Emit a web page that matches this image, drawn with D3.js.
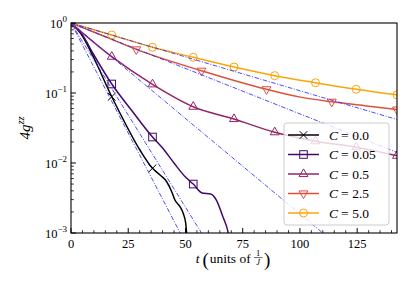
<!DOCTYPE html>
<html>
<head>
<meta charset="UTF-8">
<script src="https://d3js.org/d3.v7.min.js"></script>
<style>
  body { margin: 0; background: #fff; }
</style>
</head>
<body>
<div id="chart"></div>
<script>
// --- donnees (t en unites de 1/J, valeur 4g^zz) ---
const labels = ["0.0", "0.05", "0.5", "2.5", "5.0"];
const symbols = ["x", "square", "triUp", "triDown", "circle"];

const tC00 = [0, 5, 10, 17.8, 20.7, 30.1, 35.6, 38.9, 41.8, 44, 45.4, 47.6, 49, 50.1, 50.5, 50.8];
const vC00 = [1, 0.652, 0.316, 0.0885, 0.0572, 0.01534, 0.0084, 0.00674, 0.0054, 0.00389, 0.00296, 0.00238, 0.00191, 0.00138, 0.001, 0.0008];
const mC00 = [0, 3, 6];

const tC005 = [0, 5, 10, 17.8, 26.7, 35.6, 40, 45, 50, 53.4, 57.3, 61, 63.5, 66.4, 68.6, 69.5];
const vC005 = [1, 0.674, 0.349, 0.1345, 0.0553, 0.0235, 0.01637, 0.01, 0.0063, 0.005, 0.00373, 0.00361, 0.00296, 0.00169, 0.00103, 0.0007];
const mC005 = [0, 3, 5, 9];

const tC05 = [0, 17.8, 35.6, 53.4, 71.2, 89.0, 106.8, 124.6, 142.4];
const vC05 = [1, 0.330, 0.133, 0.0637, 0.0425, 0.0275, 0.0205, 0.0168, 0.0127];
const mC05 = [0, 1, 2, 3, 4, 5, 6, 7, 8];

const tC25 = [0, 14.2, 28.5, 57.0, 85.4, 99.7, 113.9, 128.2, 142.4];
const vC25 = [1, 0.652, 0.42, 0.208, 0.113, 0.088, 0.075, 0.066, 0.058];
const mC25 = [0, 2, 3, 4, 6, 8];

const tC50 = [0, 17.8, 35.6, 53.4, 71.2, 89.0, 106.8, 124.6, 142.4];
const vC50 = [1, 0.674, 0.45, 0.324, 0.235, 0.177, 0.14, 0.113, 0.094];
const mC50 = [0, 1, 2, 3, 4, 5, 6, 7, 8];

// ajustements exponentiels (tirets-points bleus) : extremites
const fitT0 = [0, 0, 0, 0, 0];
const fitT1 = [47.7, 57, 110, 142.4, 142.4];
const fitV1 = [0.001, 0.001, 0.001, 0.01417, 0.0418];

const xTicks = [0, 25, 50, 75, 100, 125];
const yTicks = [1, 0.1, 0.01, 0.001];
const yExp = ["0", "\u22121", "\u22122", "\u22123"];

const series = [
  { t: tC00, v: vC00, m: mC00 },
  { t: tC005, v: vC005, m: mC005 },
  { t: tC05, v: vC05, m: mC05 },
  { t: tC25, v: vC25, m: mC25 },
  { t: tC50, v: vC50, m: mC50 }
];

const FONT = "'Liberation Serif', 'Times New Roman', 'DejaVu Serif', serif";
const width = 415, height = 295;
const plot = { left: 71, right: 397, top: 23, bottom: 233 };

const svg = d3.select("#chart").append("svg")
  .attr("width", width).attr("height", height)
  .attr("font-family", FONT);

const x = d3.scaleLinear().domain([0, 142.4]).range([plot.left, plot.right]);
const y = d3.scaleLog().domain([1e-3, 1]).range([plot.bottom, plot.top]);

const colour = (i) => d3.interpolateInferno(i / 5);

svg.append("clipPath").attr("id", "clip")
  .append("rect")
  .attr("x", plot.left).attr("y", plot.top)
  .attr("width", plot.right - plot.left).attr("height", plot.bottom - plot.top);

const g = svg.append("g").attr("clip-path", "url(#clip)");

const line = d3.line()
  .x(d => x(d[0])).y(d => y(d[1]))
  .curve(d3.curveMonotoneX);

// marqueurs
function marker(sel, type, c) {
  if (type === "x") {
    sel.append("path").attr("d", "M-3.8,-3.8L3.8,3.8M-3.8,3.8L3.8,-3.8")
      .attr("stroke", c).attr("stroke-width", 1).attr("fill", "none");
  } else if (type === "square") {
    sel.append("rect").attr("x", -3.8).attr("y", -3.8).attr("width", 7.6).attr("height", 7.6)
      .attr("stroke", c).attr("stroke-width", 1).attr("fill", "none");
  } else if (type === "circle") {
    sel.append("circle").attr("r", 4)
      .attr("stroke", c).attr("stroke-width", 1).attr("fill", "none");
  } else {
    const p = d3.symbol().type(d3.symbolTriangle).size(34)();
    sel.append("path").attr("d", p)
      .attr("transform", type === "triDown" ? "rotate(180)" : null)
      .attr("stroke", c).attr("stroke-width", 1).attr("fill", "none");
  }
}

series.forEach((s, i) => {
  const pts = s.t.map((t, k) => [t, s.v[k]]);
  g.append("path").datum(pts)
    .attr("d", line)
    .attr("fill", "none")
    .attr("stroke", colour(i))
    .attr("stroke-width", 1.5);
  s.m.forEach(k => {
    const mg = g.append("g").attr("transform", `translate(${x(s.t[k])},${y(s.v[k])})`);
    marker(mg, symbols[i], colour(i));
  });
});

// droites d'ajustement
fitT1.forEach((t1, i) => {
  g.append("path")
    .datum([[fitT0[i], 1], [t1, fitV1[i]]])
    .attr("d", d3.line().x(d => x(d[0])).y(d => y(d[1])))
    .attr("fill", "none")
    .attr("stroke", "#2020ff")
    .attr("stroke-width", 0.8)
    .attr("stroke-dasharray", "4.5,1.6,1,1.6");
});

// cadre
svg.append("rect")
  .attr("x", plot.left).attr("y", plot.top)
  .attr("width", plot.right - plot.left).attr("height", plot.bottom - plot.top)
  .attr("fill", "none").attr("stroke", "#000").attr("stroke-width", 1.1);

// ticks x (vers l'interieur)
const xMinor = d3.range(0, 142, 5).filter(t => !xTicks.includes(t));
svg.append("g").selectAll("line").data(xMinor).join("line")
  .attr("x1", d => x(d)).attr("x2", d => x(d))
  .attr("y1", plot.bottom).attr("y2", plot.bottom - 2.8)
  .attr("stroke", "#000").attr("stroke-width", 0.8);
svg.append("g").selectAll("line").data(xTicks).join("line")
  .attr("x1", d => x(d)).attr("x2", d => x(d))
  .attr("y1", plot.bottom).attr("y2", plot.bottom - 4.9)
  .attr("stroke", "#000").attr("stroke-width", 1);
svg.append("g").selectAll("text").data(xTicks).join("text")
  .attr("x", d => x(d)).attr("y", 248)
  .attr("text-anchor", "middle")
  .attr("font-size", 12.5)
  .text(d => d);

// ticks y (log)
const yMinor = [];
[0.001, 0.01, 0.1].forEach(b => d3.range(2, 10).forEach(k => yMinor.push(b * k)));
svg.append("g").selectAll("line").data(yMinor).join("line")
  .attr("x1", plot.left).attr("x2", plot.left + 2.8)
  .attr("y1", d => y(d)).attr("y2", d => y(d))
  .attr("stroke", "#000").attr("stroke-width", 0.8);
svg.append("g").selectAll("line").data(yTicks).join("line")
  .attr("x1", plot.left).attr("x2", plot.left + 4.9)
  .attr("y1", d => y(d)).attr("y2", d => y(d))
  .attr("stroke", "#000").attr("stroke-width", 1);
const yl = svg.append("g").selectAll("text").data(yTicks).join("text")
  .attr("x", 67).attr("y", d => y(d) + 4.5)
  .attr("text-anchor", "end")
  .attr("font-size", 12.5);
yl.append("tspan").text("10");
yl.append("tspan").attr("dy", -5.5).attr("font-size", 9).text((d, i) => yExp[i]);

// titre axe y
const ylab = svg.append("text")
  .attr("transform", "translate(30,128) rotate(-90)")
  .attr("text-anchor", "middle")
  .attr("font-size", 15)
  .attr("font-style", "italic");
ylab.append("tspan").text("4g");
ylab.append("tspan").attr("dy", -6).attr("font-size", 10.5).text("zz");

// titre axe x : t (units of 1/J), pieces placees a la suite
const xl = svg.append("g");
let cx = 0;
function piece(txt, size, italic, dy, gap) {
  cx += gap || 0;
  const el = xl.append("text").attr("x", cx).attr("y", 263 + (dy || 0))
    .attr("font-size", size).attr("font-style", italic ? "italic" : "normal").text(txt);
  const w = el.node().getComputedTextLength();
  cx += w;
  return { el, x0: cx - w, w };
}
piece("t", 13.5, true);
piece("(", 19, false, 3, 3);
piece("units", 13.5, false, 0, 1);
piece("of", 13.5, false, 0, 3.5);
cx += 3;
const fx = cx + 4.5;
xl.append("text").attr("x", fx).attr("y", 255.5).attr("text-anchor", "middle")
  .attr("font-size", 8.5).text("1");
xl.append("line").attr("x1", fx - 4.3).attr("x2", fx + 4.3).attr("y1", 257.6).attr("y2", 257.6)
  .attr("stroke", "#000").attr("stroke-width", 0.6);
xl.append("text").attr("x", fx).attr("y", 265).attr("text-anchor", "middle")
  .attr("font-size", 8.5).attr("font-style", "italic").text("J");
cx = fx + 4.3;
piece(")", 19, false, 3, 1.5);
const totalW = cx;
xl.attr("transform", `translate(${233 - totalW / 2},0)`);

// legende
const leg = svg.append("g");
leg.append("rect")
  .attr("x", 284).attr("y", 123).attr("width", 105).attr("height", 102)
  .attr("rx", 3)
  .attr("fill", "#fff").attr("fill-opacity", 0.8)
  .attr("stroke", "#ccc").attr("stroke-width", 1);
labels.forEach((lab, i) => {
  const yy = 135 + i * 19.5;
  leg.append("line").attr("x1", 288).attr("x2", 319).attr("y1", yy).attr("y2", yy)
    .attr("stroke", colour(i)).attr("stroke-width", 1.5);
  marker(leg.append("g").attr("transform", `translate(303.5,${yy})`), symbols[i], colour(i));
  const tx = leg.append("text").attr("x", 329).attr("y", yy + 4.5).attr("font-size", 13.5);
  tx.append("tspan").attr("font-style", "italic").text("C");
  tx.append("tspan").attr("dx", 3).text("=");
  tx.append("tspan").attr("dx", 3.5).text(lab);
});
</script>
</body>
</html>
